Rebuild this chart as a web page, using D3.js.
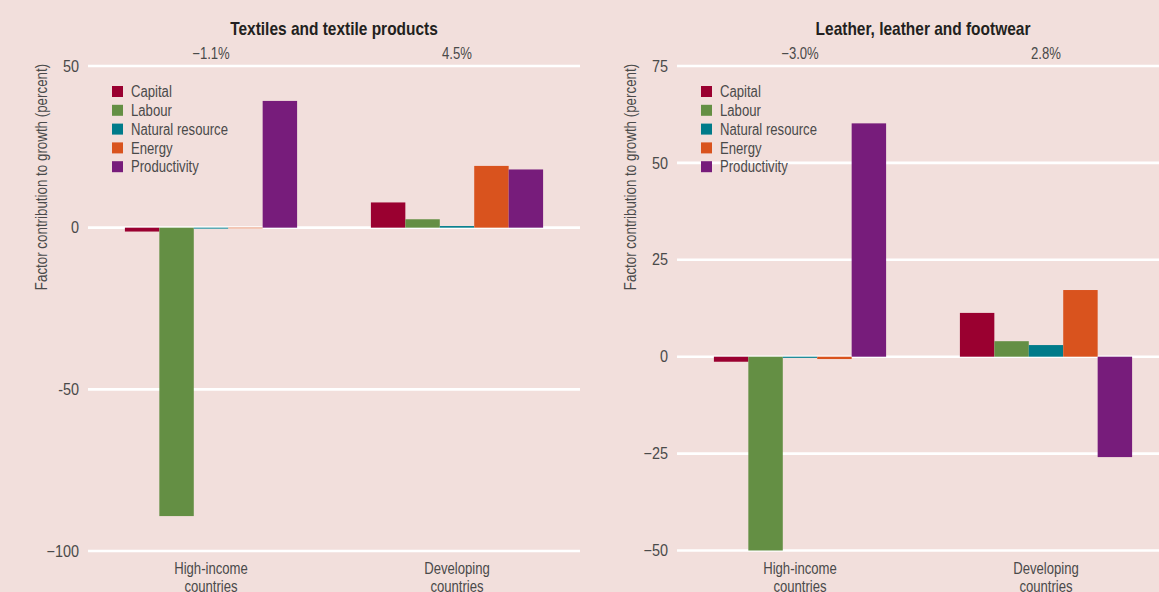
<!DOCTYPE html>
<html>
<head>
<meta charset="utf-8">
<script src="https://cdn.jsdelivr.net/npm/d3@7/dist/d3.min.js"></script>
<style>
  html, body { margin: 0; padding: 0; background: #f2dfdc; overflow: hidden; }
  svg { display: block; }
  text { font-family: "Liberation Sans", Arial, sans-serif; }
</style>
</head>
<body>
<svg id="chart" width="1159" height="592"></svg>
<script>
// ---------- DATA ----------
const categories = ["High-income countries", "Developing countries"];
const series = ["Capital", "Labour", "Natural resource", "Energy", "Productivity"];
const seriesColors = ["#9a0030", "#648f44", "#007b8a", "#d9531e", "#771c7b"];

const textilesTitle = "Textiles and textile products";
const textilesHigh = [-1.2, -89.2, -0.3, -0.2, 39.2];
const textilesDev = [7.8, 2.6, 0.5, 19.1, 18.0];
const textilesGrowth = ["\u22121.1%", "4.5%"];
const textilesTicks = [50, 0, -50, -100];
const textilesTickLabels = ["50", "0", "-50", "\u2212100"];

const leatherTitle = "Leather, leather and footwear";
const leatherHigh = [-1.3, -50.0, -0.3, -0.6, 60.2];
const leatherDev = [11.3, 4.0, 3.0, 17.2, -25.9];
const leatherGrowth = ["\u22123.0%", "2.8%"];
const leatherTicks = [75, 50, 25, 0, -25, -50];
const leatherTickLabels = ["75", "50", "25", "0", "\u221225", "\u221250"];

const yAxisTitle = "Factor contribution to growth (percent)";

// ---------- DRAW ----------
const svg = d3.select("#chart");
svg.append("rect").attr("width", 1159).attr("height", 592).attr("fill", "#f2dfdc");

function label(g, x, y, str, o) {
  o = o || {};
  const sx = o.sx || 0.82;
  const t = g.append("text")
    .attr("transform", `translate(${x},${y})${o.rotate ? " rotate(" + o.rotate + ")" : ""} scale(${sx},1)`)
    .attr("text-anchor", o.anchor || "start")
    .attr("font-size", o.size || 16)
    .attr("fill", o.fill || "#4a4a4a")
    .attr("dy", o.dy || null)
    .text(str);
  if (o.bold) t.attr("font-weight", "bold");
  return t;
}

function panel(opts) {
  const g = svg.append("g");
  const x = d3.scaleBand().domain(categories)
    .range([opts.x0, opts.x0 + 492]).paddingInner(0.3).paddingOuter(0.15);
  const xs = d3.scaleBand().domain(series).range([0, x.bandwidth()]).padding(0);
  const y = d3.scaleLinear().domain(opts.domain).range([opts.yBottom, 66]);

  // grid lines
  g.selectAll("line.grid").data(opts.ticks).join("line")
    .attr("x1", opts.x0).attr("x2", opts.x0 + 492)
    .attr("y1", d => y(d)).attr("y2", d => y(d))
    .attr("stroke", "#ffffff").attr("stroke-width", 2.6);

  // tick labels
  opts.ticks.forEach((d, i) => {
    label(g, opts.x0 - 9, y(d), opts.tickLabels[i], { anchor: "end", dy: "0.35em", size: 16, sx: 0.9 });
  });

  // bars
  const data = [opts.high, opts.dev];
  categories.forEach((c, ci) => {
    g.selectAll(null).data(series).enter().append("rect")
      .attr("x", s => x(c) + xs(s))
      .attr("width", xs.bandwidth())
      .attr("y", (s, i) => y(Math.max(0, data[ci][i])))
      .attr("height", (s, i) => Math.abs(y(data[ci][i]) - y(0)))
      .attr("fill", (s, i) => seriesColors[i]);
  });

  // growth labels
  categories.forEach((c, i) => {
    label(g, x(c) + x.bandwidth() / 2, 59, opts.growth[i], { anchor: "middle", size: 16 });
  });

  // category labels
  categories.forEach(c => {
    const parts = c.split(" ");
    const cx = x(c) + x.bandwidth() / 2;
    label(g, cx, 574, parts[0], { anchor: "middle", size: 16 });
    label(g, cx, 592, parts[1], { anchor: "middle", size: 16 });
  });

  // title
  label(g, opts.x0 + 246, 35, opts.title, { anchor: "middle", size: 18, sx: 0.86, bold: true, fill: "#231f20" });

  // y-axis title
  label(g, opts.x0 - 41, 177, yAxisTitle, { anchor: "middle", size: 16.3, rotate: -90 });

  // legend
  const lg = g.append("g").attr("transform", `translate(${opts.x0 + 24},86)`);
  series.forEach((s, i) => {
    lg.append("rect").attr("x", 0).attr("y", i * 18.8).attr("width", 11).attr("height", 11)
      .attr("fill", seriesColors[i]);
    label(lg, 19, i * 18.8 + 5.5, s, { dy: "0.36em", size: 16 });
  });
}

panel({ x0: 88, domain: [-100, 50], yBottom: 551, ticks: textilesTicks, tickLabels: textilesTickLabels,
  high: textilesHigh, dev: textilesDev, growth: textilesGrowth, title: textilesTitle });
panel({ x0: 677, domain: [-50, 75], yBottom: 550.5, ticks: leatherTicks, tickLabels: leatherTickLabels,
  high: leatherHigh, dev: leatherDev, growth: leatherGrowth, title: leatherTitle });
</script>
</body>
</html>
